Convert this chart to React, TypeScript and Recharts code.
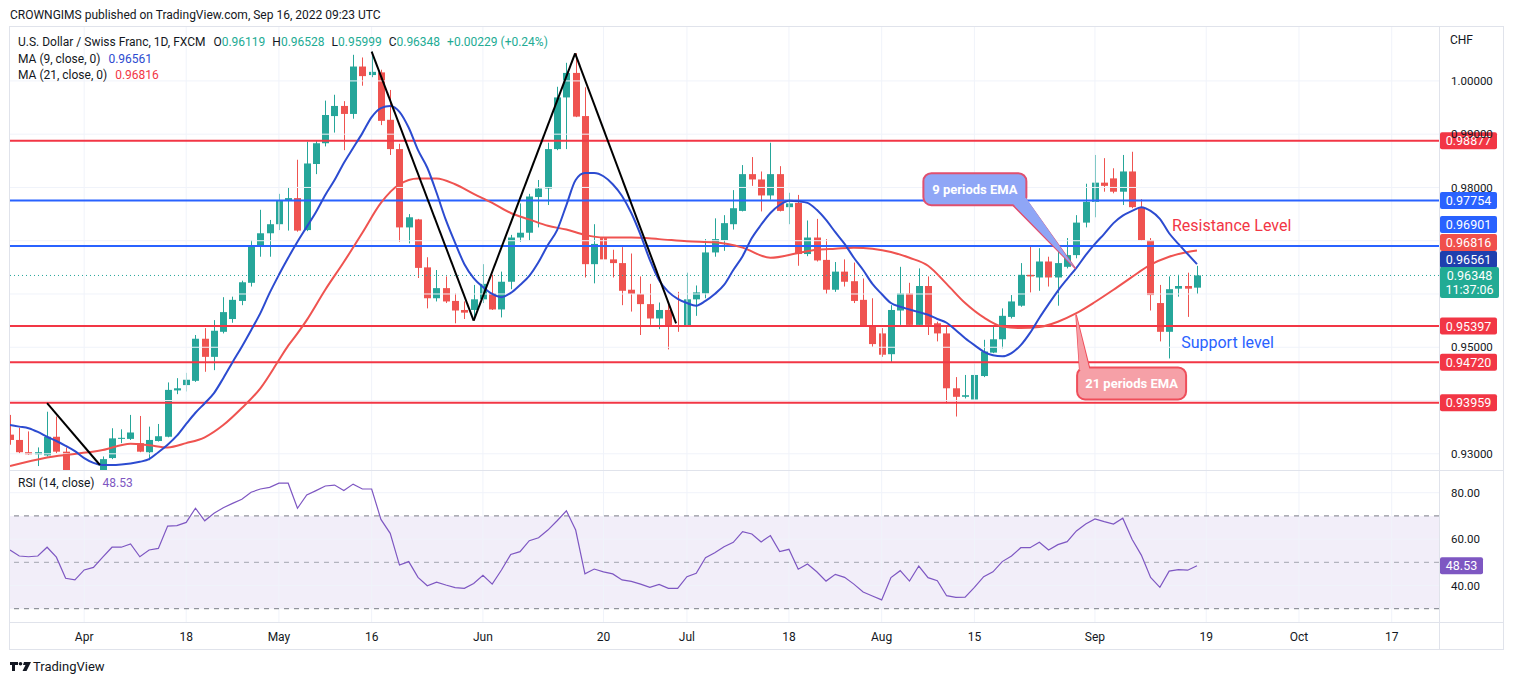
import React from 'react';
import { ComposedChart, Bar, Line, XAxis, YAxis, ReferenceLine, ReferenceArea, ReferenceDot } from 'recharts';

// ---------------- DATA ----------------
const opens = [
  0.9336, 0.9326, 0.9303, 0.9299, 0.9297, 0.9332, 0.9304, 0.9245, 0.9232, 0.9247,
  0.9255, 0.9292, 0.9328, 0.9328, 0.9320, 0.9303, 0.9324, 0.9332, 0.9419, 0.9429,
  0.9437, 0.9516, 0.9482, 0.9529, 0.9553, 0.9587, 0.9621, 0.9689, 0.9714, 0.9731,
  0.9775, 0.9780, 0.9720, 0.9844, 0.9883, 0.9934, 0.9953, 0.9938, 1.0027, 1.0011,
  1.0016, 0.9927, 0.9872, 0.9725, 0.9740, 0.9650, 0.9592, 0.9611, 0.9587, 0.9570,
  0.9570, 0.9590, 0.9601, 0.9571, 0.9623, 0.9706, 0.9715, 0.9782, 0.9798, 0.9872,
  0.9969, 1.0015, 0.9934, 0.9656, 0.9705, 0.9665, 0.9658, 0.9608, 0.9600, 0.9581,
  0.9554, 0.9570, 0.9541, 0.9539, 0.9590, 0.9601, 0.9678, 0.9701, 0.9731, 0.9756,
  0.9825, 0.9815, 0.9785, 0.9825, 0.9763, 0.9771, 0.9675, 0.9706, 0.9664, 0.9608,
  0.9642, 0.9624, 0.9589, 0.9539, 0.9526, 0.9487, 0.9569, 0.9601, 0.9542, 0.9615,
  0.9545, 0.9526, 0.9423, 0.9407, 0.9402, 0.9446, 0.9490, 0.9515, 0.9557, 0.9578,
  0.9636, 0.9631, 0.9661, 0.9631, 0.9651, 0.9673, 0.9734, 0.9773, 0.9809, 0.9817,
  0.9792, 0.9830, 0.9763, 0.9701, 0.9583, 0.9529, 0.9610, 0.9615, 0.96119,
];
const highs = [
  0.9373, 0.9349, 0.9342, 0.9312, 0.9379, 0.9370, 0.9312, 0.9262, 0.9266, 0.9268,
  0.9295, 0.9348, 0.9346, 0.9373, 0.9371, 0.9351, 0.9356, 0.9434, 0.9442, 0.9452,
  0.9523, 0.9536, 0.9551, 0.9594, 0.9595, 0.9625, 0.9701, 0.9758, 0.9739, 0.9788,
  0.9800, 0.9852, 0.9886, 0.9889, 0.9963, 0.9974, 0.9962, 1.0049, 1.0044, 1.0055,
  1.0021, 0.9983, 0.9882, 0.9750, 0.9741, 0.9669, 0.9645, 0.9633, 0.9601, 0.9586,
  0.9617, 0.9656, 0.9636, 0.9642, 0.9711, 0.9770, 0.9788, 0.9814, 0.9884, 0.9989,
  1.0034, 1.0052, 0.9988, 0.9731, 0.9711, 0.9683, 0.9688, 0.9676, 0.9633, 0.9619,
  0.9584, 0.9583, 0.9604, 0.9640, 0.9616, 0.9703, 0.9742, 0.9748, 0.9795, 0.9842,
  0.9857, 0.9830, 0.9884, 0.9840, 0.9790, 0.9786, 0.9738, 0.9741, 0.9703, 0.9660,
  0.9665, 0.9659, 0.9629, 0.9592, 0.9536, 0.9579, 0.9651, 0.9621, 0.9648, 0.9633,
  0.9548, 0.9539, 0.9444, 0.9448, 0.9469, 0.9514, 0.9539, 0.9573, 0.9598, 0.9658,
  0.9690, 0.9686, 0.9670, 0.9686, 0.9705, 0.9748, 0.9807, 0.9861, 0.9855, 0.9836,
  0.9861, 0.9867, 0.9778, 0.9705, 0.9617, 0.9633, 0.9636, 0.9640, 0.96528,
];
const lows = [
  0.9317, 0.9301, 0.9298, 0.9277, 0.9295, 0.9301, 0.9232, 0.9220, 0.9215, 0.9228,
  0.9245, 0.9290, 0.9320, 0.9326, 0.9303, 0.9288, 0.9323, 0.9331, 0.9412, 0.9417,
  0.9435, 0.9454, 0.9457, 0.9526, 0.9546, 0.9579, 0.9614, 0.9670, 0.9670, 0.9720,
  0.9719, 0.9717, 0.9718, 0.9825, 0.9877, 0.9903, 0.9870, 0.9929, 0.9991, 1.0007,
  0.9917, 0.9861, 0.9698, 0.9695, 0.9630, 0.9573, 0.9586, 0.9583, 0.9545, 0.9553,
  0.9551, 0.9583, 0.9570, 0.9556, 0.9609, 0.9698, 0.9701, 0.9725, 0.9767, 0.9870,
  0.9872, 0.9932, 0.9631, 0.9620, 0.9621, 0.9631, 0.9579, 0.9567, 0.9523, 0.9542,
  0.9534, 0.9496, 0.9529, 0.9538, 0.9559, 0.9592, 0.9670, 0.9681, 0.9721, 0.9755,
  0.9803, 0.9755, 0.9777, 0.9755, 0.9731, 0.9653, 0.9671, 0.9661, 0.9600, 0.9604,
  0.9614, 0.9583, 0.9538, 0.9501, 0.9482, 0.9471, 0.9542, 0.9539, 0.9539, 0.9523,
  0.9511, 0.9395, 0.9370, 0.9404, 0.9401, 0.9444, 0.9489, 0.9498, 0.9554, 0.9576,
  0.9603, 0.9606, 0.9614, 0.9578, 0.9648, 0.9667, 0.9725, 0.9744, 0.9792, 0.9789,
  0.9767, 0.9761, 0.9700, 0.9569, 0.9511, 0.9479, 0.9595, 0.9557, 0.95999,
];
const closes = [
  0.9326, 0.9303, 0.9299, 0.9303, 0.9332, 0.9304, 0.9245, 0.9232, 0.9247, 0.9254,
  0.9290, 0.9329, 0.9330, 0.9340, 0.9304, 0.9326, 0.9333, 0.9420, 0.9423, 0.9439,
  0.9516, 0.9482, 0.9531, 0.9566, 0.9589, 0.9622, 0.9689, 0.9714, 0.9731, 0.9775,
  0.9780, 0.9719, 0.9845, 0.9883, 0.9936, 0.9953, 0.9938, 1.0027, 1.0009, 1.0017,
  0.9925, 0.9872, 0.9725, 0.9744, 0.9649, 0.9592, 0.9611, 0.9586, 0.9569, 0.9565,
  0.9590, 0.9619, 0.9571, 0.9623, 0.9706, 0.9715, 0.9783, 0.9798, 0.9872, 0.9969,
  1.0015, 0.9933, 0.9656, 0.9694, 0.9665, 0.9658, 0.9606, 0.9600, 0.9581, 0.9554,
  0.9570, 0.9539, 0.9538, 0.9590, 0.9603, 0.9678, 0.9703, 0.9733, 0.9761, 0.9825,
  0.9815, 0.9785, 0.9825, 0.9756, 0.9770, 0.9675, 0.9706, 0.9663, 0.9608, 0.9642,
  0.9623, 0.9587, 0.9539, 0.9506, 0.9486, 0.9570, 0.9601, 0.9542, 0.9615, 0.9542,
  0.9526, 0.9423, 0.9407, 0.9410, 0.9448, 0.9492, 0.9515, 0.9559, 0.9586, 0.9636,
  0.9633, 0.9661, 0.9631, 0.9658, 0.9673, 0.9734, 0.9773, 0.9809, 0.9803, 0.9792,
  0.9830, 0.9763, 0.9701, 0.9598, 0.9529, 0.9609, 0.9615, 0.9610, 0.96348,
];
const ma9 = [
  0.9354, 0.9351, 0.9348, 0.9341, 0.9332, 0.9324, 0.9315, 0.9305, 0.9292, 0.9283,
  0.9279, 0.9279, 0.9280, 0.9282, 0.9285, 0.9290, 0.9303, 0.9317, 0.9334, 0.9356,
  0.9377, 0.9395, 0.9414, 0.9442, 0.9472, 0.9501, 0.9532, 0.9564, 0.9602, 0.9636,
  0.9668, 0.9698, 0.9726, 0.9754, 0.9786, 0.9814, 0.9846, 0.9874, 0.9902, 0.9932,
  0.9949, 0.9953, 0.9942, 0.9912, 0.9870, 0.9837, 0.9790, 0.9739, 0.9696, 0.9656,
  0.9630, 0.9613, 0.9600, 0.9594, 0.9602, 0.9617, 0.9634, 0.9660, 0.9692, 0.9720,
  0.9767, 0.9814, 0.9827, 0.9827, 0.9821, 0.9806, 0.9784, 0.9752, 0.9711, 0.9664,
  0.9626, 0.9604, 0.9591, 0.9583, 0.9578, 0.9587, 0.9600, 0.9617, 0.9645, 0.9671,
  0.9705, 0.9730, 0.9752, 0.9767, 0.9775, 0.9774, 0.9771, 0.9758, 0.9739, 0.9716,
  0.9694, 0.9668, 0.9645, 0.9619, 0.9600, 0.9583, 0.9576, 0.9571, 0.9566, 0.9561,
  0.9553, 0.9546, 0.9532, 0.9517, 0.9504, 0.9492, 0.9485, 0.9483, 0.9489, 0.9504,
  0.9527, 0.9555, 0.9581, 0.9606, 0.9628, 0.9649, 0.9673, 0.9694, 0.9713, 0.9733,
  0.9747, 0.9756, 0.9763, 0.9756, 0.9741, 0.9714, 0.9694, 0.9675, 0.96561,
];
// MA(21) read at selected bars: [bar, value]
const ma21Points: [number, number][] = [
  [0, 0.9277], [4, 0.9293], [10, 0.9307], [13, 0.9319], [15, 0.9316], [17, 0.9312], [19, 0.9320],
  [21, 0.9331], [23, 0.9354], [25, 0.9386], [27, 0.9423], [29, 0.9476], [30, 0.9503], [31, 0.9526],
  [32, 0.9551], [34, 0.9608], [36, 0.9660], [38, 0.9715], [40, 0.9771], [42, 0.9806], [44, 0.9817],
  [46, 0.9817], [48, 0.9806], [50, 0.9788], [52, 0.9771], [54, 0.9752], [56, 0.9740], [58, 0.9728],
  [60, 0.9721], [62, 0.9711], [64, 0.9706], [67, 0.9706], [70, 0.9703], [73, 0.9699], [76, 0.9697],
  [79, 0.9687], [82, 0.9668], [85, 0.9677], [87, 0.9683], [89, 0.9685], [91, 0.9687], [93, 0.9685],
  [95, 0.9679], [97, 0.9668], [99, 0.9653], [101, 0.9619], [103, 0.9583], [105, 0.9556], [107, 0.9539],
  [109, 0.9536], [111, 0.9538], [113, 0.9548], [115, 0.9564], [117, 0.9585], [119, 0.9608], [121, 0.9632],
  [123, 0.9655], [125, 0.9670], [127, 0.9679], [128, 0.96816],
];
const rsi = [
  55.3, 52.7, 52.4, 52.7, 56.5, 52.2, 43.1, 42.4, 46.7, 47.8,
  52.2, 56.5, 56.5, 57.9, 52.4, 55.3, 56.0, 65.6, 65.8, 67.2,
  73.3, 67.9, 71.1, 73.5, 75.4, 77.2, 80.2, 81.6, 82.3, 84.1,
  84.1, 73.3, 79.0, 80.9, 82.9, 83.3, 80.9, 83.7, 81.6, 81.6,
  68.5, 62.5, 48.8, 50.3, 43.5, 39.9, 41.4, 40.2, 39.1, 38.8,
  40.9, 44.4, 40.6, 46.7, 53.4, 54.6, 59.3, 60.6, 63.9, 67.9,
  72.2, 63.9, 45.0, 47.1, 45.9, 45.0, 42.4, 41.8, 40.6, 39.2,
  40.5, 38.8, 38.8, 43.8, 45.3, 52.0, 54.1, 56.7, 58.6, 63.2,
  62.2, 58.8, 61.5, 54.6, 55.6, 47.0, 49.3, 45.9, 41.9, 44.8,
  43.5, 40.6, 37.2, 35.5, 33.8, 43.4, 46.4, 41.9, 48.4, 43.4,
  42.1, 35.6, 34.9, 35.0, 39.2, 43.8, 45.9, 50.3, 52.7, 56.3,
  56.3, 58.6, 55.3, 57.6, 58.9, 63.5, 66.5, 68.7, 67.5, 66.5,
  69.0, 59.9, 53.1, 43.5, 39.2, 46.2, 46.8, 46.6, 48.53,
];
const timeTicks = [8, 19, 29, 39, 51, 64, 73, 84, 94, 104, 117, 129, 139, 149];
const timeLabels = ['Apr', '18', 'May', '16', 'Jun', '20', 'Jul', '18', 'Aug', '15', 'Sep', '19', 'Oct', '17'];
const priceGrid = [0.93, 0.94, 0.95, 0.96, 0.97, 0.98, 0.99, 1.0];
const priceLabelled = [0.93, 0.95, 0.98, 0.99, 1.0];
const rsiGrid = [40, 60, 80];
const redLevels = [0.98877, 0.95397, 0.9472, 0.93959];
const blueLevels = [0.97754, 0.96901];
const lastClose = 0.96348;
const lastMa9 = 0.96561;
const lastMa21 = 0.96816;
const lastRsi = 48.53;
// zig-zag trend lines: [bar, price] pairs
const zigzag: [number, number][][] = [
  [[4, 0.9395], [9.7, 0.9279]],
  [[39, 1.00549], [50, 0.95499]],
  [[50, 0.95499], [60.94, 1.00518]],
  [[60.94, 1.00518], [71.83, 0.9545]],
];
const notes = {
  resistance: { bar: 125.3, price: 0.97286, text: 'Resistance Level' },
  support: { bar: 126.3, price: 0.9509, text: 'Support level' },
  ema9: { bar: 104.05, price: 0.97967, text: '9 periods EMA' },
  ema21: { bar: 120.95, price: 0.9432, text: '21 periods EMA' },
};

// ---------------- BUILD ----------------
const ma21Map = new Map(ma21Points.map(([b, v]) => [b, v]));
const rows = opens.map((o, i) => ({
  i,
  o,
  h: highs[i],
  l: lows[i],
  c: closes[i],
  range: [lows[i], highs[i]],
  ma9: ma9[i],
  ma21: ma21Map.has(i) ? ma21Map.get(i) : null,
  rsi: rsi[i],
}));

const FONT = 'Roboto, "Liberation Sans", Arial, sans-serif';
const UP = '#26a69a';
const DOWN = '#ef5350';
const RED = '#f23645';
const BLUE = '#2962ff';
const MA9C = '#2c4bd0';
const MA21C = '#ef5350';
const GRID = '#f0f3fa';
const BORDER = '#e0e3eb';
const TXT = '#131722';
const X_DOMAIN: [number, number] = [0, 154.1];
const P_DOMAIN: [number, number] = [0.92696, 1.01012];
const R_DOMAIN: [number, number] = [24.27, 89.35];

const Candle = (props: any) => {
  const { x, y, width, height, payload } = props;
  if (!payload || height == null || isNaN(y)) return null;
  const { o, h, l, c } = payload;
  const col = c >= o ? UP : DOWN;
  const hh = Math.abs(height);
  const yTop = height >= 0 ? y : y + height;
  const k = hh / (h - l);
  const top = yTop + (h - Math.max(o, c)) * k;
  const bh = Math.max(1, Math.abs(o - c) * k);
  const cx = Math.round(x + width / 2) + 0.5;
  return (
    <g>
      <line x1={cx} x2={cx} y1={yTop} y2={yTop + hh} stroke={col} strokeWidth={1} />
      <rect x={cx - 3.5} y={top} width={7} height={bh} fill={col} />
    </g>
  );
};

const badgeStyle: Record<string, { fill: string; dy: number }> = {
  '0.98877': { fill: RED, dy: 0 },
  '0.97754': { fill: BLUE, dy: 0 },
  '0.96901': { fill: BLUE, dy: -21.5 },
  '0.95397': { fill: RED, dy: 0 },
  '0.94720': { fill: RED, dy: 0 },
  '0.93959': { fill: RED, dy: 0 },
};

const makeBadge = (text: string, fill: string, dy: number, width = 57, second?: string) => (p: any) => {
  const vb = p.viewBox || { x: 0, y: 0, width: 0 };
  const x0 = vb.x + vb.width + 1;
  const yc = vb.y + dy;
  const h = second ? 31 : 17;
  return (
    <g>
      <rect x={x0} y={yc - 8.5} width={width} height={h} rx={2} fill={fill} />
      <text x={x0 + width / 2} y={yc} dy="0.36em" textAnchor="middle" fontSize={12.5} fill="#fff" fontFamily={FONT}>
        {text}
      </text>
      {second ? (
        <text x={x0 + width / 2} y={yc + 14} dy="0.36em" textAnchor="middle" fontSize={12.5} fill="#fff" fontFamily={FONT}>
          {second}
        </text>
      ) : null}
    </g>
  );
};

const PriceTick = (p: any) => {
  const v = p.payload?.value;
  if (!priceLabelled.some((t) => Math.abs(t - v) < 1e-9)) return null;
  return (
    <text x={p.x + 4} y={p.y} dy="0.36em" fontSize={11.5} fill={TXT} fontFamily={FONT} textAnchor="start">
      {v.toFixed(5)}
    </text>
  );
};

const RsiTick = (p: any) => {
  const v = p.payload?.value;
  return (
    <text x={p.x + 4} y={p.y} dy="0.36em" fontSize={11.5} fill={TXT} fontFamily={FONT} textAnchor="start">
      {Number(v).toFixed(2)}
    </text>
  );
};

const TimeTick = (p: any) => {
  const v = p.payload?.value;
  const k = timeTicks.indexOf(v);
  return (
    <text x={p.x} y={p.y + 11} textAnchor="middle" fontSize={12} fill={TXT} fontFamily={FONT}>
      {k >= 0 ? timeLabels[k] : ''}
    </text>
  );
};

const NoteText = (text: string, color: string) => (p: any) => (
  <text x={p.cx} y={p.cy} dy="0.36em" fill={color} fontSize={16} fontFamily={FONT}>
    {text}
  </text>
);

const Callout = (
  text: string,
  w: number,
  h: number,
  fill: string,
  stroke: string,
  tail: [number, number, number, number, number, number],
) => (p: any) => {
  const { cx, cy } = p;
  const pts = `${cx + tail[0]},${cy + tail[1]} ${cx + tail[2]},${cy + tail[3]} ${cx + tail[4]},${cy + tail[5]}`;
  return (
    <g>
      <polygon points={pts} fill={fill} stroke={stroke} strokeWidth={1.5} strokeLinejoin="round" />
      <rect x={cx - w / 2} y={cy - h / 2} width={w} height={h} rx={8} fill={fill} stroke={stroke} strokeWidth={2} />
      <polygon points={`${cx + tail[0]},${cy + tail[1] + (tail[1] > 0 ? -1.5 : 1.5)} ${cx + tail[4]},${cy + tail[5] + (tail[5] > 0 ? -1.5 : 1.5)} ${cx + tail[2]},${cy + tail[3]}`} fill={fill} stroke="none" />
      <text x={cx} y={cy} dy="0.36em" textAnchor="middle" fill="#fff" fontSize={13} fontWeight="bold" fontFamily={FONT}>
        {text}
      </text>
    </g>
  );
};

export default function App() {
  const abs = (s: React.CSSProperties): React.CSSProperties => ({ position: 'absolute', ...s });
  return (
    <div style={abs({ left: 0, top: 0, width: 1514, height: 685, background: '#fff', overflow: 'hidden', fontFamily: FONT, color: TXT })}>
      {/* header */}
      <div style={abs({ left: 10, top: 7, fontSize: 12, lineHeight: '16px', whiteSpace: 'nowrap' })}>
        CROWNGIMS published on TradingView.com, Sep 16, 2022 09:23 UTC
      </div>
      {/* frame */}
      <div style={abs({ left: 9, top: 26, width: 1495, height: 624, border: `1px solid ${BORDER}`, boxSizing: 'border-box' })} />

      {/* price pane */}
      <div style={abs({ left: 10, top: 27 })}>
        <ComposedChart width={1494} height={443} data={rows} margin={{ top: 0, right: 0, bottom: 0, left: 0 }}>
          <XAxis type="number" dataKey="i" domain={X_DOMAIN} allowDataOverflow hide />
          <YAxis
            orientation="right"
            width={65}
            domain={P_DOMAIN}
            allowDataOverflow
            ticks={priceGrid}
            interval={0}
            axisLine={false}
            tickLine={false}
            tick={<PriceTick />}
          />
          {priceGrid.map((g) => (
            <ReferenceLine key={'pg' + g} y={g} stroke={GRID} strokeWidth={1} />
          ))}
          {timeTicks.map((t) => (
            <ReferenceLine key={'vg' + t} x={t} stroke={GRID} strokeWidth={1} />
          ))}
          <Bar dataKey="range" barSize={7} shape={<Candle />} isAnimationActive={false} />
          {redLevels.map((v) => (
            <ReferenceLine
              key={'r' + v}
              y={v}
              stroke={RED}
              strokeWidth={2}
              label={makeBadge(v.toFixed(5), badgeStyle[v.toFixed(5)].fill, badgeStyle[v.toFixed(5)].dy)}
            />
          ))}
          {blueLevels.map((v) => (
            <ReferenceLine
              key={'b' + v}
              y={v}
              stroke={BLUE}
              strokeWidth={2}
              label={makeBadge(v.toFixed(5), badgeStyle[v.toFixed(5)].fill, badgeStyle[v.toFixed(5)].dy)}
            />
          ))}
          <ReferenceLine y={lastMa21} stroke="none" label={makeBadge(lastMa21.toFixed(5), '#f0504c', -8)} />
          <ReferenceLine y={lastMa9} stroke="none" label={makeBadge(lastMa9.toFixed(5), '#1f3fae', -4.5)} />
          <ReferenceLine
            y={lastClose}
            stroke={UP}
            strokeDasharray="1 3"
            strokeWidth={1}
            label={makeBadge(lastClose.toFixed(5), '#22ab94', 0, 59, '11:37:06')}
          />
          <Line dataKey="ma21" type="monotone" connectNulls dot={false} stroke={MA21C} strokeWidth={2} isAnimationActive={false} />
          <Line dataKey="ma9" type="monotone" dot={false} stroke={MA9C} strokeWidth={2} isAnimationActive={false} />
          {zigzag.map((seg, k) => (
            <ReferenceLine
              key={'z' + k}
              segment={[{ x: seg[0][0], y: seg[0][1] }, { x: seg[1][0], y: seg[1][1] }]}
              stroke="#000"
              strokeWidth={2}
            />
          ))}
          <ReferenceDot x={notes.resistance.bar} y={notes.resistance.price} r={0} shape={NoteText(notes.resistance.text, RED)} />
          <ReferenceDot x={notes.support.bar} y={notes.support.price} r={0} shape={NoteText(notes.support.text, BLUE)} />
          <ReferenceDot
            x={notes.ema9.bar}
            y={notes.ema9.price}
            r={0}
            shape={Callout(notes.ema9.text, 103, 32, '#8fa6f6', '#e0506f', [37, 15, 100.3, 79.1, 51, 10])}
          />
          <ReferenceDot
            x={notes.ema21.bar}
            y={notes.ema21.price}
            r={0}
            shape={Callout(notes.ema21.text, 109, 32, '#f6a0a7', '#ef4e5a', [-52, -15, -55.5, -68.5, -42, -15])}
          />
        </ComposedChart>
      </div>

      {/* rsi pane + time axis */}
      <div style={abs({ left: 10, top: 471 })}>
        <ComposedChart width={1494} height={179} data={rows} margin={{ top: 0, right: 0, bottom: 0, left: 0 }}>
          <XAxis
            type="number"
            dataKey="i"
            domain={X_DOMAIN}
            allowDataOverflow
            ticks={timeTicks}
            interval={0}
            height={28}
            axisLine={false}
            tickLine={false}
            tick={<TimeTick />}
          />
          <YAxis
            orientation="right"
            width={65}
            domain={R_DOMAIN}
            allowDataOverflow
            ticks={rsiGrid}
            interval={0}
            axisLine={false}
            tickLine={false}
            tick={<RsiTick />}
          />
          <ReferenceArea y1={30} y2={70} fill="#7e57c2" fillOpacity={0.1} stroke="none" />
          {rsiGrid.map((g) => (
            <ReferenceLine key={'rg' + g} y={g} stroke={GRID} strokeWidth={1} />
          ))}
          {timeTicks.map((t) => (
            <ReferenceLine key={'rv' + t} x={t} stroke={GRID} strokeWidth={1} />
          ))}
          <ReferenceLine y={70} stroke="#787b86" strokeDasharray="5 5" strokeWidth={1} />
          <ReferenceLine y={50} stroke="#a3a6af" strokeDasharray="5 5" strokeWidth={1} />
          <ReferenceLine y={30} stroke="#787b86" strokeDasharray="5 5" strokeWidth={1} />
          <Line dataKey="rsi" type="linear" dot={false} stroke="#7e57c2" strokeWidth={1.2} isAnimationActive={false} />
          <ReferenceLine y={lastRsi} stroke="none" label={makeBadge(lastRsi.toFixed(2), '#7e57c2', 0, 43)} />
        </ComposedChart>
      </div>

      {/* dividers */}
      <div style={abs({ left: 9, top: 470, width: 1495, height: 1, background: BORDER })} />
      <div style={abs({ left: 9, top: 622, width: 1495, height: 1, background: BORDER })} />
      <div style={abs({ left: 1439, top: 26, width: 1, height: 624, background: BORDER })} />

      {/* legends */}
      <div style={abs({ left: 18, top: 34, fontSize: 12, lineHeight: '16px', whiteSpace: 'nowrap' })}>
        U.S. Dollar / Swiss Franc, 1D, FXCM
        <span style={{ marginLeft: 8 }}>O</span>
        <span style={{ color: '#22ab94' }}>0.96119</span>
        <span style={{ marginLeft: 7 }}>H</span>
        <span style={{ color: '#22ab94' }}>0.96528</span>
        <span style={{ marginLeft: 7 }}>L</span>
        <span style={{ color: '#22ab94' }}>0.95999</span>
        <span style={{ marginLeft: 7 }}>C</span>
        <span style={{ color: '#22ab94' }}>0.96348</span>
        <span style={{ marginLeft: 7, color: '#22ab94' }}>+0.00229 (+0.24%)</span>
      </div>
      <div style={abs({ left: 18, top: 51, fontSize: 12, lineHeight: '16px', whiteSpace: 'nowrap' })}>
        MA (9, close, 0)<span style={{ marginLeft: 8, color: MA9C }}>0.96561</span>
      </div>
      <div style={abs({ left: 18, top: 67, fontSize: 12, lineHeight: '16px', whiteSpace: 'nowrap' })}>
        MA (21, close, 0)<span style={{ marginLeft: 8, color: RED }}>0.96816</span>
      </div>
      <div style={abs({ left: 18, top: 475, fontSize: 12, lineHeight: '16px', whiteSpace: 'nowrap' })}>
        RSI (14, close)<span style={{ marginLeft: 8, color: '#7e57c2' }}>48.53</span>
      </div>
      <div style={abs({ left: 1450, top: 32, fontSize: 12, lineHeight: '16px' })}>CHF</div>

      {/* footer */}
      <svg style={abs({ left: 10, top: 662 })} width={22} height={10} viewBox="0 0 22 10">
        <path d="M0 0 H8 V3 H5 V9 H2 V3 H0 Z" fill={TXT} />
        <circle cx={10.5} cy={1.8} r={1.8} fill={TXT} />
        <path d="M14 0 H21 L16.5 9 H12.5 L15.5 3 H13 Z" fill={TXT} />
      </svg>
      <div style={abs({ left: 33, top: 658, fontSize: 13, lineHeight: '17px', whiteSpace: 'nowrap' })}>TradingView</div>
    </div>
  );
}
